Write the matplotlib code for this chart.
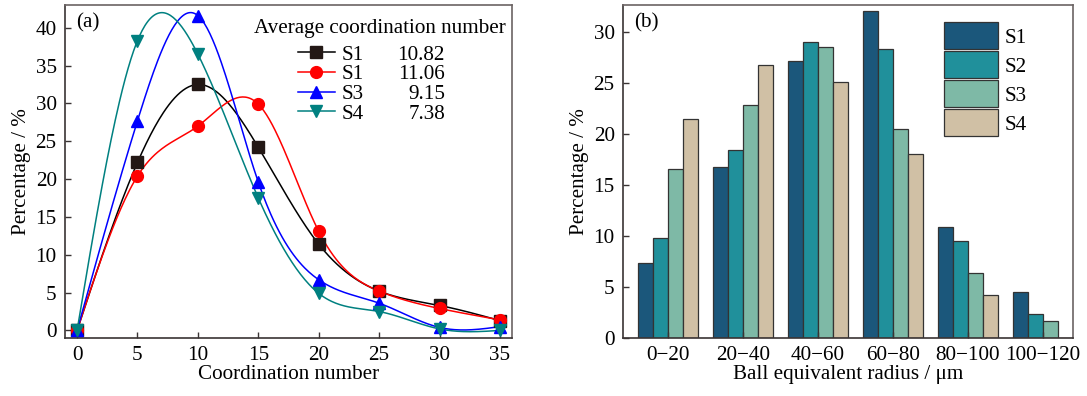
import numpy as np
import matplotlib
matplotlib.use("Agg")
import matplotlib.pyplot as plt

plt.rcParams['font.family'] = ['Liberation Serif', 'DejaVu Serif']
plt.rcParams['mathtext.fontset'] = 'stix'

# panel (a) data
coord = [0, 5, 10, 15, 20, 25, 30, 35]
s1_black = [0, 22.2, 32.5, 24.2, 11.4, 5.2, 3.3, 1.3]
s1_red = [0, 20.4, 27.0, 29.9, 13.1, 5.2, 2.9, 1.4]
s3_blue = [0, 27.7, 41.6, 19.6, 6.7, 3.6, 0.4, 0.5]
s4_teal = [0, 38.3, 36.5, 17.5, 4.9, 2.5, 0.2, 0.0]
line_labels = ["S1", "S1", "S3", "S4"]
avg_numbers = ["10.82", "11.06", "9.15", "7.38"]

# panel (b) data
radius_bins = ["0\u221220", "20\u221240", "40\u221260", "60\u221280", "80\u2212100", "100\u2212120"]
bar_s1 = [7.4, 16.8, 27.2, 32.1, 10.9, 4.5]
bar_s2 = [9.8, 18.5, 29.1, 28.4, 9.5, 2.4]
bar_s3 = [16.6, 22.9, 28.6, 20.5, 6.4, 1.7]
bar_s4 = [21.5, 26.8, 25.1, 18.1, 4.2, 0.0]
bar_labels = ["S1", "S2", "S3", "S4"]


def natural_spline(x, y, n=300):
    # natural cubic spline through the points, only used to draw the smooth line
    x = np.asarray(x, float)
    y = np.asarray(y, float)
    k = len(x)
    h = np.diff(x)
    A = np.zeros((k, k))
    b = np.zeros(k)
    A[0, 0] = A[-1, -1] = 1
    for i in range(1, k - 1):
        A[i, i - 1] = h[i - 1]
        A[i, i] = 2 * (h[i - 1] + h[i])
        A[i, i + 1] = h[i]
        b[i] = 6 * ((y[i + 1] - y[i]) / h[i] - (y[i] - y[i - 1]) / h[i - 1])
    M = np.linalg.solve(A, b)
    xs = np.linspace(x[0], x[-1], n)
    idx = np.clip(np.searchsorted(x, xs) - 1, 0, k - 2)
    x0, x1 = x[idx], x[idx + 1]
    hh = x1 - x0
    ys = (M[idx] * (x1 - xs) ** 3 / (6 * hh) + M[idx + 1] * (xs - x0) ** 3 / (6 * hh)
          + (y[idx] / hh - M[idx] * hh / 6) * (x1 - xs)
          + (y[idx + 1] / hh - M[idx + 1] * hh / 6) * (xs - x0))
    return xs, ys


fig = plt.figure(figsize=(10.87, 3.96), dpi=100)
spine_col = '#3a3434'
fs = 15.2

# ---- panel (a)
ax1 = fig.add_axes([65 / 1087, 58 / 396, 447 / 1087, 333 / 396])
series = [s1_black, s1_red, s3_blue, s4_teal]
colors = ['#000000', '#ff0000', '#0000ff', '#008080']
mcolors = ['#231815', '#ff0000', '#0000ff', '#008080']
markers = ['s', 'o', '^', 'v']
handles = []
for ys, c, mc, m in zip(series, colors, mcolors, markers):
    xs, sm = natural_spline(coord, ys)
    ax1.plot(xs, sm, color=c, lw=1.1, zorder=2)
    ax1.plot(coord, ys, ls='none', marker=m, color=mc, ms=8.5, zorder=3, clip_on=False)
    h, = ax1.plot([], [], color=c, lw=1.1, marker=m, mfc=mc, mec=mc, ms=8.5)
    handles.append(h)

ax1.set_xlim(-1, 36)
ax1.set_ylim(-1, 43)
ax1.set_xticks(range(0, 36, 5))
ax1.set_yticks(range(0, 41, 5))
ax1.set_xlabel("Coordination number", fontsize=fs, labelpad=0)
ax1.set_ylabel("Percentage / %", fontsize=fs, labelpad=3)
ax1.text(0.025, 0.975, "(a)", transform=ax1.transAxes, fontsize=fs, va='top', ha='left')
ax1.text(0.985, 0.93, "Average coordination number", transform=ax1.transAxes,
         fontsize=fs, ha='right', va='center')

leg = ax1.legend(handles, line_labels, loc='upper left', bbox_to_anchor=(0.488, 0.925),
                 frameon=False, fontsize=fs, handlelength=1.75, handletextpad=0.3,
                 labelspacing=0.0, borderpad=0.2)
fig.canvas.draw()
texts = leg.get_texts()
inv = ax1.transAxes.inverted()
for t, num in zip(texts, avg_numbers):
    bb = t.get_window_extent()
    yc = inv.transform(((bb.x0 + bb.x1) / 2, (bb.y0 + bb.y1) / 2))[1]
    ax1.text(0.85, yc, num, transform=ax1.transAxes, fontsize=fs, ha='right', va='center')

# ---- panel (b)
ax2 = fig.add_axes([623 / 1087, 58 / 396, 450 / 1087, 333 / 396])
bar_cols = ['#1b577b', '#20909b', '#7eb9a6', '#d0c0a5']
pos = np.arange(len(radius_bins))
w = 0.2
for i, (vals, c, lab) in enumerate(zip([bar_s1, bar_s2, bar_s3, bar_s4], bar_cols, bar_labels)):
    ax2.bar(pos + (i - 1.5) * w, vals, width=w, color=c, edgecolor='#333333', lw=0.9, label=lab)

ax2.set_xlim(-0.6, 5.4)
ax2.set_ylim(0, 32.7)
ax2.set_xticks(pos)
ax2.set_xticklabels(radius_bins)
ax2.set_yticks(range(0, 31, 5))
ax2.tick_params(axis='x', length=0)
ax2.set_xlabel("Ball equivalent radius / \u03bcm", fontsize=fs, labelpad=0)
ax2.set_ylabel("Percentage / %", fontsize=fs, labelpad=3)
ax2.text(0.025, 0.975, "(b)", transform=ax2.transAxes, fontsize=fs, va='top', ha='left')
ax2.legend(loc='upper right', bbox_to_anchor=(0.93, 0.993), frameon=False, fontsize=fs,
           handlelength=2.55, handleheight=1.59, handletextpad=0.3, labelspacing=0.095,
           borderpad=0.2)

for ax in (ax1, ax2):
    ax.tick_params(direction='in', labelsize=fs, length=4, width=1, color=spine_col, pad=6)
    ax.tick_params(axis='both', which='both', top=False, right=False)
    for s in ax.spines.values():
        s.set_color('#6b6464')
        s.set_linewidth(1.2)
    ax.spines['left'].set_color(spine_col)
    ax.spines['bottom'].set_color(spine_col)

fig.savefig("out.png", dpi=100)
